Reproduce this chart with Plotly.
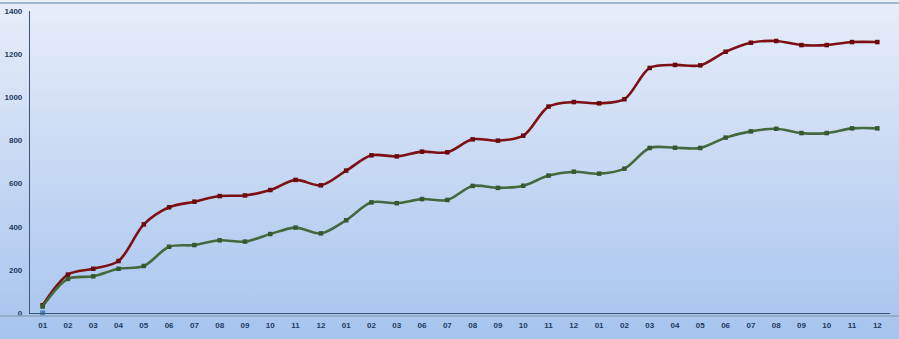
import base64
import plotly.graph_objects as go

months = ["01","02","03","04","05","06","07","08","09","10","11","12",
          "01","02","03","06","07","08","09","10","11","12",
          "01","02","03","04","05","06","07","08","09","10","11","12"]

red_vals = [36, 178, 205, 241, 411, 490, 516, 542, 545, 570, 617, 592,
            660, 731, 726, 748, 745, 805, 799, 822, 957, 978,
            972, 991, 1136, 1150, 1148, 1211, 1253, 1261, 1242, 1242, 1256, 1256]
green_vals = [30, 158, 170, 205, 218, 307, 315, 337, 331, 366, 396, 369,
              430, 513, 509, 528, 524, 589, 580, 590, 637, 655,
              646, 669, 765, 766, 765, 813, 842, 854, 834, 834, 856, 856]
blue_vals = [0]

y_ticks = [0, 200, 400, 600, 800, 1000, 1200, 1400]

x_idx = list(range(len(months)))

W, H = 899, 339
ml, mr, mt, mb = 30, 9, 11, 26
pw, ph = W - ml - mr, H - mt - mb

svg = f'''<svg xmlns="http://www.w3.org/2000/svg" width="{W}" height="{H}" preserveAspectRatio="none">
<defs><linearGradient id="g" x1="0" y1="0" x2="0" y2="1">
<stop offset="0" stop-color="#e8eefa"/>
<stop offset="0.5" stop-color="#c6d8f3"/>
<stop offset="1" stop-color="#a6c4ee"/>
</linearGradient></defs>
<rect width="{W}" height="{H}" fill="url(#g)"/>
</svg>'''
src = "data:image/svg+xml;base64," + base64.b64encode(svg.encode()).decode()

fig = go.Figure()
fig.add_trace(go.Scatter(
    x=x_idx, y=red_vals, mode="lines+markers",
    line=dict(color="#7e0f12", width=2.6, shape="spline", smoothing=0.9),
    marker=dict(symbol="square", size=4.5, color="#6a0a0c"),
    showlegend=False, hoverinfo="skip"))
fig.add_trace(go.Scatter(
    x=x_idx, y=green_vals, mode="lines+markers",
    line=dict(color="#436a3c", width=2.6, shape="spline", smoothing=0.9),
    marker=dict(symbol="square", size=4.5, color="#36582f"),
    showlegend=False, hoverinfo="skip"))
fig.add_trace(go.Scatter(
    x=x_idx[:len(blue_vals)], y=blue_vals, mode="markers",
    marker=dict(symbol="square", size=5, color="#4f81bd"),
    showlegend=False, hoverinfo="skip", cliponaxis=False))

fig.add_layout_image(dict(
    source=src, xref="paper", yref="paper",
    x=-ml / pw, y=1 + mt / ph, sizex=W / pw, sizey=H / ph,
    xanchor="left", yanchor="top", sizing="stretch", layer="below"))

# outer chart border lines
fig.add_shape(type="line", xref="paper", yref="paper",
              x0=-ml / pw, x1=1 + mr / pw, y0=1 + (mt - 3) / ph, y1=1 + (mt - 3) / ph,
              line=dict(color="#8da4bd", width=1.5))
fig.add_shape(type="line", xref="paper", yref="paper",
              x0=-ml / pw, x1=1 + mr / pw, y0=-(mb - 23) / ph, y1=-(mb - 23) / ph,
              line=dict(color="#8da4bd", width=1.5))

font = dict(family="Liberation Sans", size=8, color="#233a5e", weight="bold")
fig.update_layout(
    width=W, height=H,
    margin=dict(l=ml, r=mr, t=mt, b=mb, autoexpand=False),
    paper_bgcolor="rgba(0,0,0,0)",
    plot_bgcolor="rgba(0,0,0,0)",
    xaxis=dict(range=[-0.5, len(months) - 0.5], tickvals=x_idx, ticktext=months,
               showgrid=False, zeroline=False, showline=True, linecolor="#3b5478",
               linewidth=1.2, ticks="", tickfont=font, ticklabelstandoff=4,
               automargin=False),
    yaxis=dict(range=[0, 1400], tickvals=y_ticks, showgrid=False, zeroline=False,
               showline=True, linecolor="#3b5478", linewidth=1.2, ticks="",
               tickfont=font, ticklabelstandoff=5, automargin=False),
)
fig.write_html("out.html")
